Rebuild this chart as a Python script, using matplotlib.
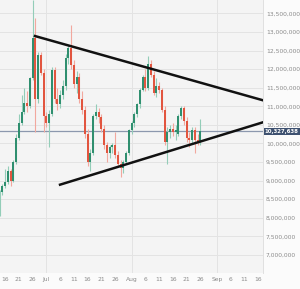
import numpy as np
import pandas as pd
import matplotlib
matplotlib.use("Agg")
import matplotlib.pyplot as plt
import matplotlib.dates as mdates
import matplotlib.transforms as mtransforms

# daily candles, values in millions
start = "2021-06-14"
opens = [8.45, 8.70, 8.85, 8.95, 9.25, 9.00, 9.50, 10.15, 10.55, 10.85,
         11.10, 11.00, 11.75, 12.85, 11.20, 12.38, 11.90, 10.75, 10.55, 10.80,
         11.97, 11.20, 11.05, 11.30, 11.55, 12.30, 12.57, 12.10, 11.60, 11.80,
         11.20, 10.90, 10.25, 9.50, 9.75, 10.75, 10.85, 10.70, 10.40, 9.95,
         9.75, 9.90, 9.95, 9.70, 9.45, 9.35, 9.50, 9.75, 10.35, 10.55,
         10.80, 11.05, 11.45, 11.80, 11.50, 12.15, 11.85, 11.35, 11.55, 11.45,
         10.90, 10.05, 10.30, 10.40, 10.30, 10.25, 10.75, 10.95, 10.60, 10.15,
         10.10, 10.35, 10.10, 10.05]
highs = [8.75, 8.90, 9.30, 9.40, 9.30, 9.55, 10.25, 10.80, 11.30, 11.50,
         11.40, 11.80, 13.85, 13.38, 12.45, 12.45, 12.00, 10.85, 10.90, 12.05,
         12.05, 11.50, 11.45, 11.70, 12.40, 12.65, 13.20, 12.25, 11.95, 11.90,
         11.40, 11.00, 10.40, 9.85, 10.80, 11.05, 10.95, 10.80, 10.50, 10.05,
         9.95, 10.00, 10.30, 9.80, 9.55, 9.55, 9.80, 10.40, 10.60, 10.85,
         11.10, 11.50, 11.85, 12.00, 12.35, 12.25, 11.95, 11.75, 11.65, 11.50,
         11.00, 10.45, 10.50, 10.55, 10.50, 10.80, 11.00, 11.00, 10.70, 10.30,
         10.45, 10.45, 10.25, 10.65]
lows = [8.05, 8.60, 8.80, 8.90, 8.85, 8.95, 9.45, 10.10, 10.50, 10.80,
        10.85, 10.95, 11.70, 10.30, 11.10, 11.85, 10.30, 10.45, 9.90, 10.75,
        11.10, 10.90, 10.95, 11.20, 11.45, 12.15, 12.00, 11.50, 11.35, 11.10,
        10.80, 10.15, 9.40, 9.25, 9.70, 10.65, 10.55, 10.30, 9.85, 9.50,
        9.60, 9.75, 9.60, 9.40, 9.10, 9.20, 9.45, 9.70, 10.25, 10.45,
        10.70, 10.95, 11.40, 11.40, 11.45, 11.80, 11.30, 11.25, 11.35, 10.85,
        9.95, 9.45, 10.15, 10.20, 10.10, 10.20, 10.65, 10.50, 10.05, 9.90,
        10.00, 9.75, 9.95, 9.95]
closes = [8.70, 8.85, 8.95, 9.25, 9.00, 9.50, 10.15, 10.55, 10.85, 11.10,
          11.00, 11.75, 12.85, 11.20, 12.38, 11.90, 10.75, 10.55, 10.80, 11.97,
          11.20, 11.05, 11.30, 11.55, 12.30, 12.57, 12.10, 11.60, 11.80, 11.20,
          10.90, 10.25, 9.50, 9.75, 10.75, 10.85, 10.70, 10.40, 9.95, 9.75,
          9.90, 9.95, 9.70, 9.45, 9.35, 9.50, 9.75, 10.35, 10.55, 10.80,
          11.05, 11.45, 11.80, 11.50, 12.15, 11.85, 11.35, 11.55, 11.45, 10.90,
          10.05, 10.30, 10.40, 10.30, 10.35, 10.75, 10.95, 10.60, 10.15, 10.10,
          10.35, 10.10, 10.05, 10.327638]
last_price = 10327638

# triangle trend lines (days after start, value in millions)
upper_days = [12.9, 95.8]
upper_vals = [12.89, 11.16]
lower_days = [22.0, 95.8]
lower_vals = [8.89, 10.57]

yticks = [7.0, 7.5, 8.0, 8.5, 9.0, 9.5, 10.0, 10.5, 11.0, 11.5, 12.0, 12.5, 13.0, 13.5]
xtick_dates = ["2021-06-16", "2021-06-21", "2021-06-26", "2021-07-01", "2021-07-06",
               "2021-07-11", "2021-07-16", "2021-07-21", "2021-07-26", "2021-08-01",
               "2021-08-06", "2021-08-11", "2021-08-16", "2021-08-21", "2021-08-26",
               "2021-09-01", "2021-09-06", "2021-09-11", "2021-09-16"]
xtick_labels = ["16", "21", "26", "Jul", "6", "11", "16", "21", "26", "Aug",
                "6", "11", "16", "21", "26", "Sep", "6", "11", "16"]
month_lines = ["2021-07-01", "2021-08-01", "2021-09-01"]

t0 = mdates.date2num(pd.Timestamp(start))
days = t0 + np.arange(len(opens))
o = np.array(opens) * 1e6
h = np.array(highs) * 1e6
l = np.array(lows) * 1e6
c = np.array(closes) * 1e6
up = c >= o

fig = plt.figure(figsize=(3.0, 2.89), dpi=100, facecolor="#fbfbfb")
ax = fig.add_axes([0, 0.055, 0.877, 0.945])
ax.set_facecolor("#f4f4f4")

green, red = "#2f8f6f", "#e2553f"
gwick, rwick = "#93cdb8", "#f2a89e"
ax.vlines(days[up], l[up], h[up], color=gwick, lw=0.8, zorder=2)
ax.vlines(days[~up], l[~up], h[~up], color=rwick, lw=0.8, zorder=2)
ax.bar(days[up], c[up] - o[up], bottom=o[up], width=0.72, color=green, zorder=3)
ax.bar(days[~up], o[~up] - c[~up], bottom=c[~up], width=0.72, color=red, zorder=3)

ax.axhline(last_price, color="#8c98ae", lw=0.9, zorder=1)
ax.plot(t0 + np.array(upper_days), np.array(upper_vals) * 1e6, color="#111111", lw=1.8, zorder=4)
ax.plot(t0 + np.array(lower_days), np.array(lower_vals) * 1e6, color="#111111", lw=1.8, zorder=4)

for m in month_lines:
    ax.axvline(mdates.date2num(pd.Timestamp(m)), color="#e3e3e3", lw=0.7, zorder=0)
ax.set_yticks([v * 1e6 for v in yticks])
ax.set_yticklabels(["{:,}".format(int(round(v * 1e6))) for v in yticks])
ax.grid(axis="y", color="#e3e3e3", lw=0.7, zorder=0)
ax.set_axisbelow(True)
ax.set_xticks([mdates.date2num(pd.Timestamp(d)) for d in xtick_dates])
ax.set_xticklabels(xtick_labels)

ax.yaxis.tick_right()
ax.tick_params(axis="y", length=0, pad=2, labelsize=4.3, labelcolor="#8a8a8a")
ax.tick_params(axis="x", length=0, pad=2.5, labelsize=4.3, labelcolor="#8a8a8a")
for s in ["top", "left", "bottom"]:
    ax.spines[s].set_visible(False)
ax.spines["right"].set_color("#e0e0e0")
ax.spines["right"].set_linewidth(0.7)

ax.set_xlim(t0 + 0.18, t0 + 95.8)
ax.set_ylim(6.51e6, 13.86e6)

trans = mtransforms.blended_transform_factory(ax.transAxes, ax.transData)
ax.text(1.006, last_price, "{:,}".format(last_price), transform=trans, ha="left", va="center",
        fontsize=3.9, color="white", fontweight="bold",
        bbox=dict(boxstyle="square,pad=0.2", fc="#3e5170", ec="none"))

fig.savefig("out.png", dpi=100, facecolor=fig.get_facecolor())
